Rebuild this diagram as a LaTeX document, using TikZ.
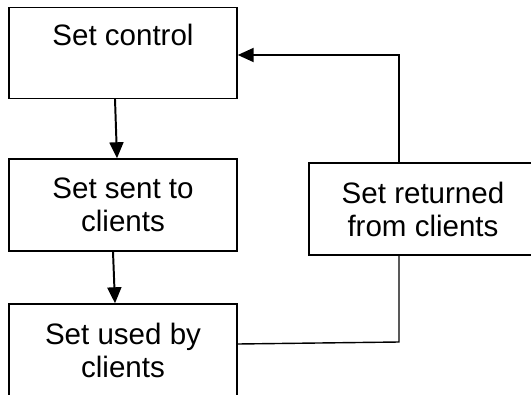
\documentclass[tikz,border=0pt]{standalone}
\usepackage{fontspec}
\setmainfont{Liberation Sans}
\usepackage{tikz}
\usetikzlibrary{arrows.meta}

\tikzset{
  setbox/.style={draw, line width=1pt, inner sep=0pt, minimum width=5.7cm,
    minimum height=2.3cm, align=center},
  topline/.style={text height=0.96cm, text depth=1.315cm, minimum height=0pt},
  flow/.style={line width=1.4pt, -{Triangle[length=0.4cm, width=0.35cm]}}
}

\begin{document}
\begin{tikzpicture}[x=0.025cm, y=-0.025cm, font=\fontsize{21}{23.5}\selectfont]
    \clip (0,0) rectangle (531,394);
    \fill[white] (0,0) rectangle (531,394);

    \node[setbox, topline] (ctrl) at (123,53) {Set control};
    \node[setbox] (sent) at (123,205) {Set sent to\\clients};
    \node[setbox] (used) at (123,350) {Set used by\\clients};
    \node[setbox] (returned) at (423,209) {Set returned\\from clients};

    \coordinate (bend) at (399,342);

    \draw[flow] ([xshift=-0.2cm]ctrl.south) -- ([xshift=-0.15cm]sent.north);
    \draw[flow] ([xshift=-0.25cm]sent.south) -- ([xshift=-0.2cm]used.north);
    \draw[line width=1pt] ([yshift=0.15cm]used.east) -- (bend) -- (returned.south -| bend);
    \draw[flow] (returned.north -| bend) |- ([yshift=-0.05cm]ctrl.east);
\end{tikzpicture}
\end{document}
